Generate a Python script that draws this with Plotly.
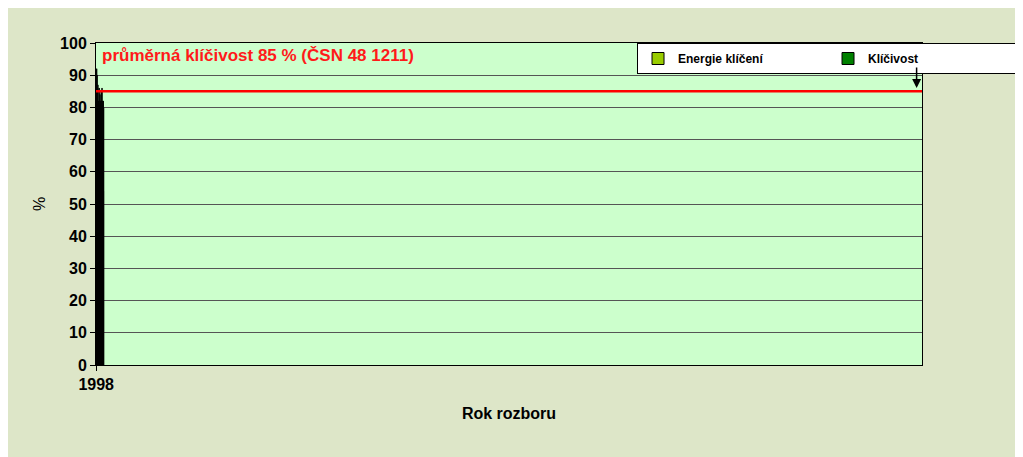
import plotly.graph_objects as go

years = [str(y) for y in range(1998, 2017)]
energie = [76, 84, 79, 63, 69, 64, 66, 77, 63, 63, 58, 59, 60, 59, 69, 47, 54, 59, 54]
klicivost = [88, 92, 90, 86, 87, 82, 80, 86, 81, 84, 82, 81, 85, 82, 86, 66, 82, 82, 80]
norm_value = 85

fig = go.Figure()
fig.add_trace(go.Bar(x=years, y=energie, name="<b>Energie klíčení</b>",
                     marker=dict(color="#99cc00", line=dict(color="black", width=1))))
fig.add_trace(go.Bar(x=years, y=klicivost, name="<b>Klíčivost</b>",
                     marker=dict(color="#008000", line=dict(color="black", width=1))))

fig.add_shape(type="line", xref="paper", x0=0, x1=1, y0=norm_value, y1=norm_value,
              line=dict(color="#ff0000", width=2.5))
fig.add_annotation(x=0.005, xref="paper", y=96, text="<b>průměrná klíčivost 85 % (ČSN 48 1211)</b>",
                   showarrow=False, xanchor="left", font=dict(color="#ff1a1a", size=17))
fig.add_annotation(x="2000", y=86, ax=0, ay=-22, text="", showarrow=True,
                   arrowhead=2, arrowsize=1.2, arrowwidth=1.5, arrowcolor="black")

fig.update_layout(
    width=1023, height=457,
    paper_bgcolor="#dde6c8", plot_bgcolor="#ccffcc",
    font=dict(family="Liberation Sans, Arial", color="black"),
    barmode="group", bargap=0.3, bargroupgap=0.0,
    margin=dict(l=88, r=53, t=35, b=100),
    legend=dict(orientation="h", x=0.655, y=1.0, xanchor="left", yanchor="top",
                bgcolor="white", bordercolor="black", borderwidth=1,
                font=dict(size=12), entrywidth=145, traceorder="normal",
                itemwidth=30),
    xaxis=dict(type="category",
               title=dict(text="<b>Rok rozboru</b>", font=dict(size=16)),
               tickfont=dict(size=16, weight="bold"), showline=True, linecolor="black",
               mirror=True, ticks="outside", tickcolor="black"),
    yaxis=dict(title=dict(text="%", font=dict(size=16), standoff=10), range=[0, 100], dtick=10,
               tickfont=dict(size=16, weight="bold"), gridcolor="#555555",
               showline=True, linecolor="black", mirror=True, ticks="outside",
               tickcolor="black", zeroline=False),
)

fig.write_html("out.html")
